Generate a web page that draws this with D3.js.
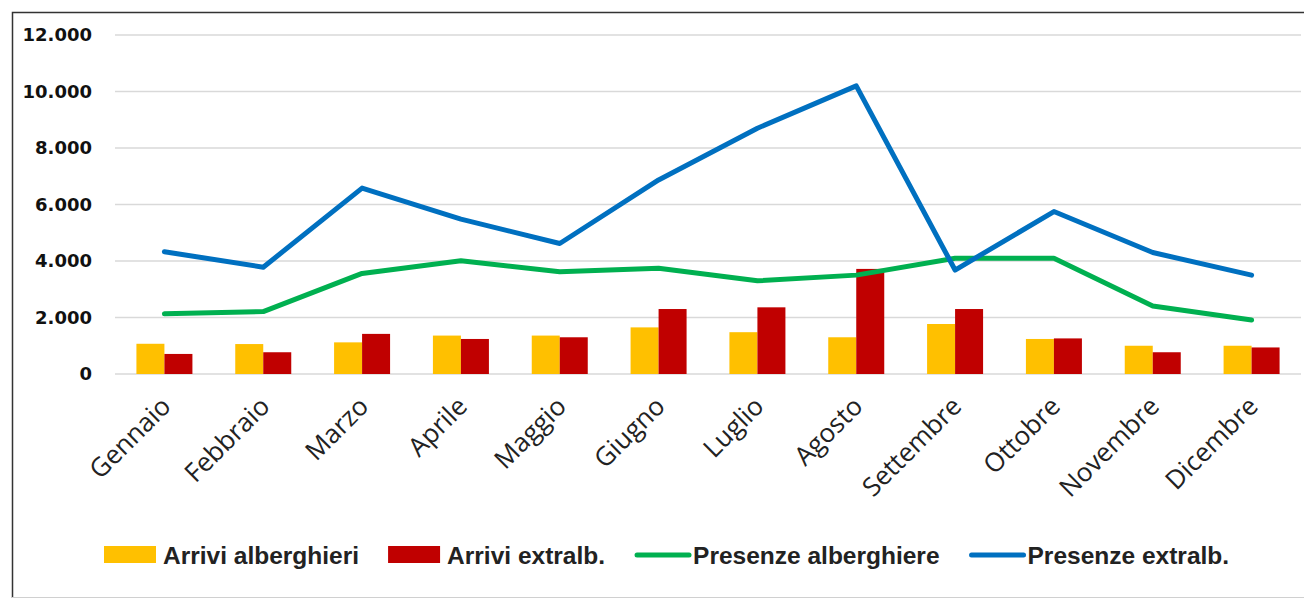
<!DOCTYPE html>
<html>
<head>
<meta charset="utf-8">
<script src="https://cdn.jsdelivr.net/npm/d3@7"></script>
<style>
  body { margin: 0; background: #fff; }
  svg { display: block; }
</style>
</head>
<body>
<svg width="1304" height="599"></svg>
<script>
// mesi e serie
const mesi = ["Gennaio", "Febbraio", "Marzo", "Aprile", "Maggio", "Giugno",
  "Luglio", "Agosto", "Settembre", "Ottobre", "Novembre", "Dicembre"];
const arriviAlberghieri = [1070, 1060, 1120, 1360, 1360, 1650, 1480, 1300, 1770, 1240, 1000, 1000];
const arriviExtralb = [710, 770, 1420, 1240, 1300, 2300, 2360, 3720, 2300, 1260, 770, 940];
const presenzeAlberghiere = [2130, 2210, 3560, 4010, 3620, 3740, 3300, 3500, 4100, 4100, 2410, 1910];
const presenzeExtralb = [4330, 3780, 6580, 5480, 4620, 6870, 8700, 10200, 3680, 5750, 4300, 3500];
const yTicks = [0, 2000, 4000, 6000, 8000, 10000, 12000];

const svg = d3.select("svg");

// cornice
svg.append("path")
  .attr("d", "M12.5,598 L12.5,12.5 L1304,12.5")
  .attr("fill", "none")
  .attr("stroke", "#333")
  .attr("stroke-width", 1.5);
svg.append("line")
  .attr("x1", 12).attr("x2", 1304).attr("y1", 597.5).attr("y2", 597.5)
  .attr("stroke", "#d0d0d0");

const x = d3.scaleBand().domain(mesi).range([115, 1301]);
const y = d3.scaleLinear().domain([0, 12000]).range([374, 35]);
const barW = 28;

// griglia
svg.append("g")
  .selectAll("line")
  .data(yTicks)
  .enter()
  .append("line")
  .attr("x1", 115)
  .attr("x2", 1301)
  .attr("y1", (d) => y(d))
  .attr("y2", (d) => y(d))
  .attr("stroke", "#d9d9d9")
  .attr("stroke-width", 1.5);

// etichette asse y
const fmt = (d) => d3.format(",")(d).replace(/,/g, ".");
svg.append("g")
  .selectAll("text")
  .data(yTicks)
  .enter()
  .append("text")
  .attr("x", 92)
  .attr("y", (d) => y(d))
  .attr("dy", "0.36em")
  .attr("text-anchor", "end")
  .style("font", "bold 18px 'DejaVu Sans'")
  .style("fill", "#111")
  .text(fmt);

// barre
const barre = [
  { valori: arriviAlberghieri, colore: "#FFC000", off: -barW },
  { valori: arriviExtralb, colore: "#C00000", off: 0 },
];
barre.forEach((s) => {
  svg.append("g")
    .selectAll("rect")
    .data(s.valori)
    .enter()
    .append("rect")
    .attr("x", (d, i) => x(mesi[i]) + x.bandwidth() / 2 + s.off)
    .attr("y", (d) => y(d))
    .attr("width", barW)
    .attr("height", (d) => y(0) - y(d))
    .attr("fill", s.colore);
});

// linee
const linee = [
  { valori: presenzeAlberghiere, colore: "#00B050" },
  { valori: presenzeExtralb, colore: "#0070C0" },
];
const line = d3.line()
  .x((d, i) => x(mesi[i]) + x.bandwidth() / 2)
  .y((d) => y(d));
linee.forEach((s) => {
  svg.append("path")
    .datum(s.valori)
    .attr("d", line)
    .attr("fill", "none")
    .attr("stroke", s.colore)
    .attr("stroke-width", 5)
    .attr("stroke-linejoin", "round")
    .attr("stroke-linecap", "round");
});

// etichette mesi
svg.append("g")
  .selectAll("text")
  .data(mesi)
  .enter()
  .append("text")
  .attr("transform", (d) => `translate(${x(d) + x.bandwidth() / 2 + 8},${408}) rotate(-45)`)
  .attr("text-anchor", "end")
  .style("font", "26px 'Open Sans'")
  .style("fill", "#222")
  .text((d) => d);

// legenda
const legenda = [
  { nome: "Arrivi alberghieri", colore: "#FFC000", tipo: "rect" },
  { nome: "Arrivi extralb.", colore: "#C00000", tipo: "rect" },
  { nome: "Presenze alberghiere", colore: "#00B050", tipo: "line" },
  { nome: "Presenze extralb.", colore: "#0070C0", tipo: "line" },
];
let lx = 104;
const ly = 555;
legenda.forEach((l) => {
  const g = svg.append("g");
  if (l.tipo === "rect") {
    g.append("rect")
      .attr("x", lx).attr("y", ly - 9)
      .attr("width", 52).attr("height", 17)
      .attr("fill", l.colore);
  } else {
    g.append("line")
      .attr("x1", lx + 3).attr("x2", lx + 55)
      .attr("y1", ly).attr("y2", ly)
      .attr("stroke", l.colore)
      .attr("stroke-width", 5)
      .attr("stroke-linecap", "round");
  }
  const t = g.append("text")
    .attr("x", lx + 59)
    .attr("y", ly)
    .attr("dy", "0.36em")
    .style("font", "bold 24.5px 'Liberation Sans'")
    .style("fill", "#222")
    .text(l.nome);
  lx += 59 + t.node().getComputedTextLength() + 29;
});
</script>
</body>
</html>
